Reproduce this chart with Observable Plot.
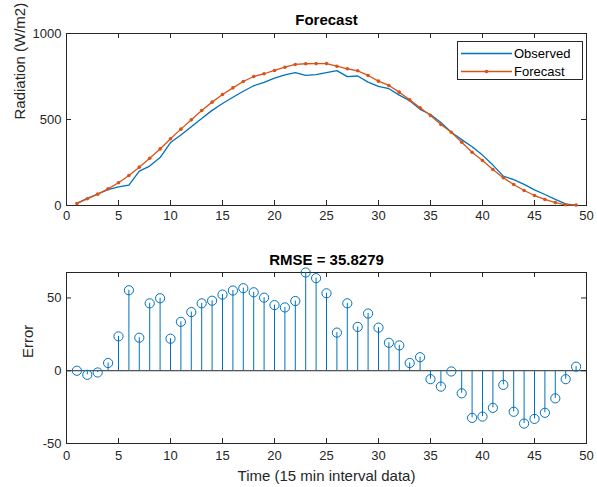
<!DOCTYPE html>
<html>
<head>
<meta charset="utf-8">
<script src="https://cdn.jsdelivr.net/npm/d3@7"></script>
<script src="https://cdn.jsdelivr.net/npm/@observablehq/plot@0.6"></script>
<style>
  html, body { margin: 0; padding: 0; background: #fff; }
  #wrap { position: relative; width: 597px; height: 487px; font-family: "Liberation Sans", Arial, sans-serif; }
  #wrap svg { display: block; }
  #legend { position: absolute; left: 457px; top: 41px; }
</style>
</head>
<body>
<div id="wrap"></div>
<script>
// ---- data ----
const steps = [1,2,3,4,5,6,7,8,9,10,11,12,13,14,15,16,17,18,19,20,21,22,23,24,25,26,27,28,29,30,31,32,33,34,35,36,37,38,39,40,41,42,43,44,45,46,47,48,49];
const observed = [12,42,67,92,108,119,200,229,279,366,410,458,506,553,593,629,664,696,716,740,760,772,757,761,772,784,749,753,717,693,679,642,609,559,529,482,426,383,342,293,235,171,150,123,91,64,36,10,0];
const forecast = [12,39,66,97,132,174,223,275,329,388,444,498,552,601,645,684,721,750,766,785,804,820,824,825,825,810,795,783,756,723,698,659,614,568,523,471,426,368,310,262,209,161,122,87,58,35,17,4,3];
const errors = [0,-2.8,-1.2,5.3,23.6,55.3,22.7,46.3,49.8,22,33.6,40.3,46.3,48.1,52.3,55.1,56.7,53.9,50.2,45.1,43.5,47.9,67.5,63.6,53.2,26.2,46.3,30.1,39.3,29.6,19.2,17.4,5.3,9.3,-5.8,-10.9,-0.5,-15.5,-32.4,-31.5,-25.5,-9.7,-28.2,-36.3,-33.1,-28.9,-19,-5.8,2.8];
const xTicks = [0,5,10,15,20,25,30,35,40,45,50];
const yTicksTop = [0,500,1000];
const yTicksBottom = [-50,0,50];
const seriesNames = ["Observed","Forecast"];
const titleTop = "Forecast";
const titleBottom = "RMSE = 35.8279";
const yLabelTop = "Radiation (W/m2)";
const yLabelBottom = "Error";
const xLabel = "Time (15 min interval data)";

const BLUE = "#0072BD", ORANGE = "#D95319", AX = "#262626";
const FONT = '"Liberation Sans", Arial, sans-serif';
const fmt = d => String(d);

const topRows = steps.map((s, i) => ({s, observed: observed[i], forecast: forecast[i]}));
const errRows = steps.map((s, i) => ({s, e: errors[i]}));

function boxTicks(xT, yT, innerW, innerH) {
  const L = 5;
  return [
    Plot.ruleX(xT, {x: d => d, insetTop: innerH - L, stroke: AX, strokeWidth: 1}),
    Plot.ruleX(xT, {x: d => d, insetBottom: innerH - L, stroke: AX, strokeWidth: 1}),
    Plot.ruleY(yT, {y: d => d, insetRight: innerW - L, stroke: AX, strokeWidth: 1}),
    Plot.ruleY(yT, {y: d => d, insetLeft: innerW - L, stroke: AX, strokeWidth: 1})
  ];
}

const W = 597;
const mL = 66, mR = 11;
const innerW = W - mL - mR;

// ---- top plot ----
const topH = 240, topMT = 33, topMB = 35;
const topInnerH = topH - topMT - topMB;
const plotTop = Plot.plot({
  width: W, height: topH,
  marginLeft: mL, marginRight: mR, marginTop: topMT, marginBottom: topMB,
  style: {fontFamily: FONT, fontSize: "13px", color: AX, background: "white", overflow: "visible"},
  x: {domain: [0, 50]},
  y: {domain: [0, 1000]},
  marks: [
    ...boxTicks(xTicks, yTicksTop, innerW, topInnerH),
    Plot.axisX(xTicks, {tickSize: 0, tickPadding: 5, tickFormat: fmt, label: null, fontSize: 13, fill: AX}),
    Plot.axisY(yTicksTop, {tickSize: 0, tickPadding: 5, tickFormat: fmt, label: null, fontSize: 13, fill: AX}),
    Plot.frame({stroke: AX, strokeWidth: 1}),
    Plot.line(topRows, {x: "s", y: "observed", stroke: BLUE, strokeWidth: 1.3}),
    Plot.line(topRows, {x: "s", y: "forecast", stroke: ORANGE, strokeWidth: 1.3}),
    Plot.dot(topRows, {x: "s", y: "forecast", fill: ORANGE, r: 1.8}),
    Plot.text([titleTop], {frameAnchor: "top", dy: -13, lineAnchor: "middle", fontWeight: "bold", fontSize: 15, fill: "#000"}),
    Plot.text([yLabelTop], {frameAnchor: "left", dx: -46, rotate: -90, lineAnchor: "middle", fontSize: 15, fill: AX})
  ]
});

// ---- bottom plot ----
const botH = 247, botMT = 32, botMB = 44;
const botInnerH = botH - botMT - botMB;
const plotBottom = Plot.plot({
  width: W, height: botH,
  marginLeft: mL, marginRight: mR, marginTop: botMT, marginBottom: botMB,
  style: {fontFamily: FONT, fontSize: "13px", color: AX, background: "white", overflow: "visible"},
  x: {domain: [0, 50]},
  y: {domain: [-50, 67.5]},
  marks: [
    ...boxTicks(xTicks, yTicksBottom, innerW, botInnerH),
    Plot.axisX(xTicks, {tickSize: 0, tickPadding: 7, tickFormat: fmt, label: null, fontSize: 13, fill: AX}),
    Plot.axisY(yTicksBottom, {tickSize: 0, tickPadding: 5, tickFormat: fmt, label: null, fontSize: 13, fill: AX}),
    Plot.frame({stroke: AX, strokeWidth: 1}),
    Plot.ruleY([0], {stroke: AX, strokeWidth: 1}),
    Plot.ruleX(errRows, {x: "s", y1: 0, y2: "e", stroke: BLUE, strokeWidth: 1}),
    Plot.dot(errRows, {x: "s", y: "e", stroke: BLUE, fill: "none", r: 4.6, strokeWidth: 1}),
    Plot.text([titleBottom], {frameAnchor: "top", dy: -12, lineAnchor: "middle", fontWeight: "bold", fontSize: 15, fill: "#000"}),
    Plot.text([yLabelBottom], {frameAnchor: "left", dx: -38, rotate: -90, lineAnchor: "middle", fontSize: 15, fill: AX}),
    Plot.text([xLabel], {frameAnchor: "bottom", dy: 33, lineAnchor: "middle", fontSize: 15, fill: AX})
  ]
});

const wrap = document.getElementById("wrap");
wrap.appendChild(plotTop);
wrap.appendChild(plotBottom);

// ---- legend ----
const lg = document.createElement("div");
lg.id = "legend";
const lw = 126, lh = 39;
lg.innerHTML = `<svg width="${lw}" height="${lh}" style="display:block;font-family:${FONT.replace(/"/g,"'")}">
  <rect x="0.5" y="0.5" width="${lw-1}" height="${lh-1}" fill="white" stroke="${AX}" stroke-width="1"></rect>
  <line x1="4" x2="55" y1="12.5" y2="12.5" stroke="${BLUE}" stroke-width="1.3"></line>
  <text x="57" y="12.5" dy="0.35em" font-size="13" fill="#000">${seriesNames[0]}</text>
  <line x1="4" x2="55" y1="30.5" y2="30.5" stroke="${ORANGE}" stroke-width="1.3"></line>
  <circle cx="29.5" cy="30.5" r="1.8" fill="${ORANGE}"></circle>
  <text x="57" y="30.5" dy="0.35em" font-size="13" fill="#000">${seriesNames[1]}</text>
</svg>`;
wrap.appendChild(lg);
</script>
</body>
</html>
